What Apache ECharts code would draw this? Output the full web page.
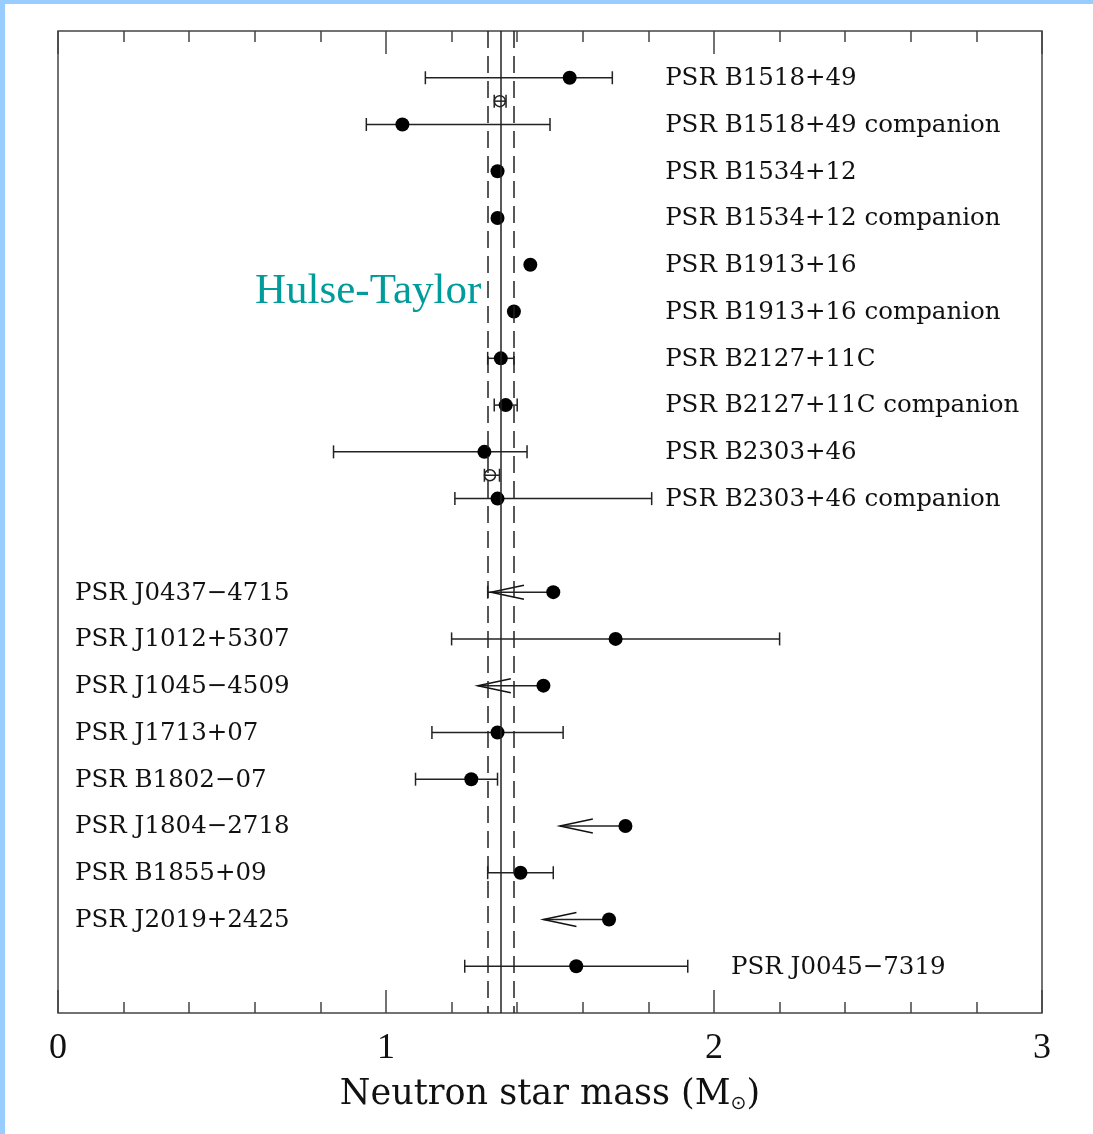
<!DOCTYPE html>
<html style="height: 100%">
<head>
    <meta charset="utf-8">
    <title>Neutron star masses</title>
    <script src="https://cdn.jsdelivr.net/npm/echarts@6/dist/echarts.min.js"></script>
</head>
<body style="height: 100%; margin: 0; background: #fff">
<div id="chart1" style="width:1093px;height:1134px"></div>
<script type="text/javascript">
    // rows: 0..9 double neutron star systems, 11..19 other pulsars
    var rows = [0, 1, 2, 3, 4, 5, 6, 7, 8, 9, 11, 12, 13, 14, 15, 16, 17, 18, 19];
    var names = ['PSR B1518+49', 'PSR B1518+49 companion', 'PSR B1534+12', 'PSR B1534+12 companion',
        'PSR B1913+16', 'PSR B1913+16 companion', 'PSR B2127+11C', 'PSR B2127+11C companion',
        'PSR B2303+46', 'PSR B2303+46 companion',
        'PSR J0437\u22124715', 'PSR J1012+5307', 'PSR J1045\u22124509', 'PSR J1713+07',
        'PSR B1802\u221207', 'PSR J1804\u22122718', 'PSR B1855+09', 'PSR J2019+2425', 'PSR J0045\u22127319'];
    var mass = [1.56, 1.05, 1.34, 1.34, 1.44, 1.39, 1.35, 1.365, 1.30, 1.34,
        1.51, 1.70, 1.48, 1.34, 1.26, 1.73, 1.41, 1.68, 1.58];
    var massLow = [1.12, 0.94, null, null, null, null, 1.31, 1.33, 0.84, 1.21,
        1.31, 1.20, null, 1.14, 1.09, null, 1.31, null, 1.24];
    var massHigh = [1.69, 1.50, null, null, null, null, 1.39, 1.40, 1.43, 1.81,
        null, 2.20, null, 1.54, 1.34, null, 1.51, null, 1.92];
    // upper limits: arrow pointing to lower mass
    var arrowTip = [null, null, null, null, null, null, null, null, null, null,
        1.32, null, 1.28, null, null, 1.53, null, 1.48, null];

    // total-mass / average estimates (open symbols)
    var openRows = [0.5, 8.5];
    var openMass = [1.347, 1.317];
    var openLow = [1.33, 1.30];
    var openHigh = [1.366, 1.346];

    var meanMass = 1.35;
    var massBand = [1.31, 1.39];
    var xTicks = [0, 1, 2, 3];

    var myChart1 = echarts.init(document.getElementById('chart1'));

    function bar(api, y, lo, hi, tip) {
        var children = [];
        var st = {stroke: '#222', lineWidth: 1.5};
        var left = lo, right = hi;
        if (tip != null) left = (left == null) ? tip : Math.min(left, tip);
        if (left == null || right == null) return children;
        var p1 = api.coord([left, y]), p2 = api.coord([right, y]);
        children.push({type: 'line', shape: {x1: p1[0], y1: p1[1], x2: p2[0], y2: p2[1]}, style: st});
        [lo, tip == null ? hi : null].forEach(function (v) {
            if (v == null) return;
            var c = api.coord([v, y]);
            children.push({type: 'line', shape: {x1: c[0], y1: c[1] - 6.5, x2: c[0], y2: c[1] + 6.5}, style: st});
        });
        if (tip != null) {
            var t = api.coord([tip, y]);
            children.push({type: 'polyline', shape: {points: [[t[0] + 33, t[1] - 7], [t[0], t[1]], [t[0] + 33, t[1] + 7]]},
                style: {stroke: '#111', lineWidth: 1.5, fill: null}});
        }
        return children;
    }

    var tickStyle = {color: '#444', width: 1.5};

    myChart1.setOption({
        animation: false,
        backgroundColor: '#fff',
        grid: {
            left: 58, top: 31, right: 51, bottom: 121,
            show: true, borderColor: '#444', borderWidth: 1.5
        },
        xAxis: [{
            type: 'value', min: 0, max: 3, interval: 1, position: 'bottom',
            axisLine: {show: false, onZero: false},
            splitLine: {show: false},
            axisTick: {inside: true, length: 23, lineStyle: tickStyle},
            minorTick: {show: true, splitNumber: 5, length: 11, lineStyle: tickStyle},
            axisLabel: {
                fontFamily: 'Liberation Serif', fontSize: 36, color: '#111', margin: 18,
                formatter: function (v) { return xTicks.indexOf(v) >= 0 ? String(v) : ''; }
            },
            name: '{t|Neutron star mass (M}{s|\u2299}{t|)}',
            nameLocation: 'middle', nameGap: 62,
            nameTextStyle: {
                rich: {
                    t: {fontFamily: 'DejaVu Serif', fontSize: 35, color: '#111', lineHeight: 40},
                    s: {fontFamily: 'DejaVu Sans', fontSize: 19, color: '#111', padding: [18, 0, 0, 0]}
                }
            }
        }, {
            type: 'value', min: 0, max: 3, interval: 1, position: 'top',
            axisLine: {show: false, onZero: false},
            splitLine: {show: false},
            axisTick: {inside: true, length: 23, lineStyle: tickStyle},
            minorTick: {show: true, splitNumber: 5, length: 11, lineStyle: tickStyle},
            axisLabel: {show: false}
        }],
        yAxis: {
            type: 'value', min: -1, max: 20, inverse: true,
            show: false
        },
        graphic: [
            {type: 'rect', left: 0, top: 0, shape: {width: 5, height: 1134}, style: {fill: '#99ccff'}},
            {type: 'rect', left: 0, top: 0, shape: {width: 1093, height: 4}, style: {fill: '#99ccff'}},
            {type: 'text', left: 255, top: 270, style: {
                text: 'Hulse-Taylor', fontFamily: 'Liberation Serif', fontSize: 43, fill: '#009b9b'
            }}
        ],
        series: [
            {
                // error bars and upper-limit arrows
                type: 'custom',
                data: rows.map(function (r, i) { return [mass[i], r]; }),
                renderItem: function (params, api) {
                    var i = params.dataIndex;
                    var hi = massHigh[i] != null ? massHigh[i] : (arrowTip[i] != null || massLow[i] != null ? mass[i] : null);
                    return {type: 'group', children: bar(api, rows[i], massLow[i], hi, arrowTip[i])};
                },
                z: 2
            },
            {
                type: 'custom',
                data: openRows.map(function (r, i) { return [openMass[i], r]; }),
                renderItem: function (params, api) {
                    var i = params.dataIndex;
                    return {type: 'group', children: bar(api, openRows[i], openLow[i], openHigh[i], null)};
                },
                z: 2
            },
            {
                type: 'scatter',
                data: openRows.map(function (r, i) { return [openMass[i], r]; }),
                symbol: 'circle', symbolSize: 11,
                itemStyle: {color: 'rgba(255,255,255,0)', borderColor: '#222', borderWidth: 1.5, opacity: 1},
                z: 3
            },
            {
                type: 'scatter',
                data: rows.map(function (r, i) { return [mass[i], r]; }),
                symbolSize: 14,
                itemStyle: {color: '#000', opacity: 1},
                z: 4,
                markLine: {
                    symbol: 'none', silent: true, label: {show: false},
                    data: [
                        {xAxis: meanMass, lineStyle: {type: 'solid', color: '#222', width: 1.5}},
                        {xAxis: massBand[0], lineStyle: {type: [17, 8], color: '#222', width: 1.5}},
                        {xAxis: massBand[1], lineStyle: {type: [17, 8], color: '#222', width: 1.5}}
                    ]
                }
            },
            {
                // pulsar names
                type: 'custom',
                data: rows.map(function (r, i) { return [mass[i], r]; }),
                renderItem: function (params, api) {
                    var i = params.dataIndex;
                    var r = rows[i];
                    var lx = r < 10 ? 1.851 : (r === 19 ? 2.052 : 0.052);
                    var p = api.coord([lx, r]);
                    return {type: 'text', x: p[0], y: p[1] + 1, style: {
                        text: names[i], fontFamily: 'DejaVu Serif', fontSize: 24.5, fill: '#111',
                        verticalAlign: 'middle', align: 'left'
                    }};
                },
                z: 5
            }
        ]
    });
</script>
</body>
</html>
